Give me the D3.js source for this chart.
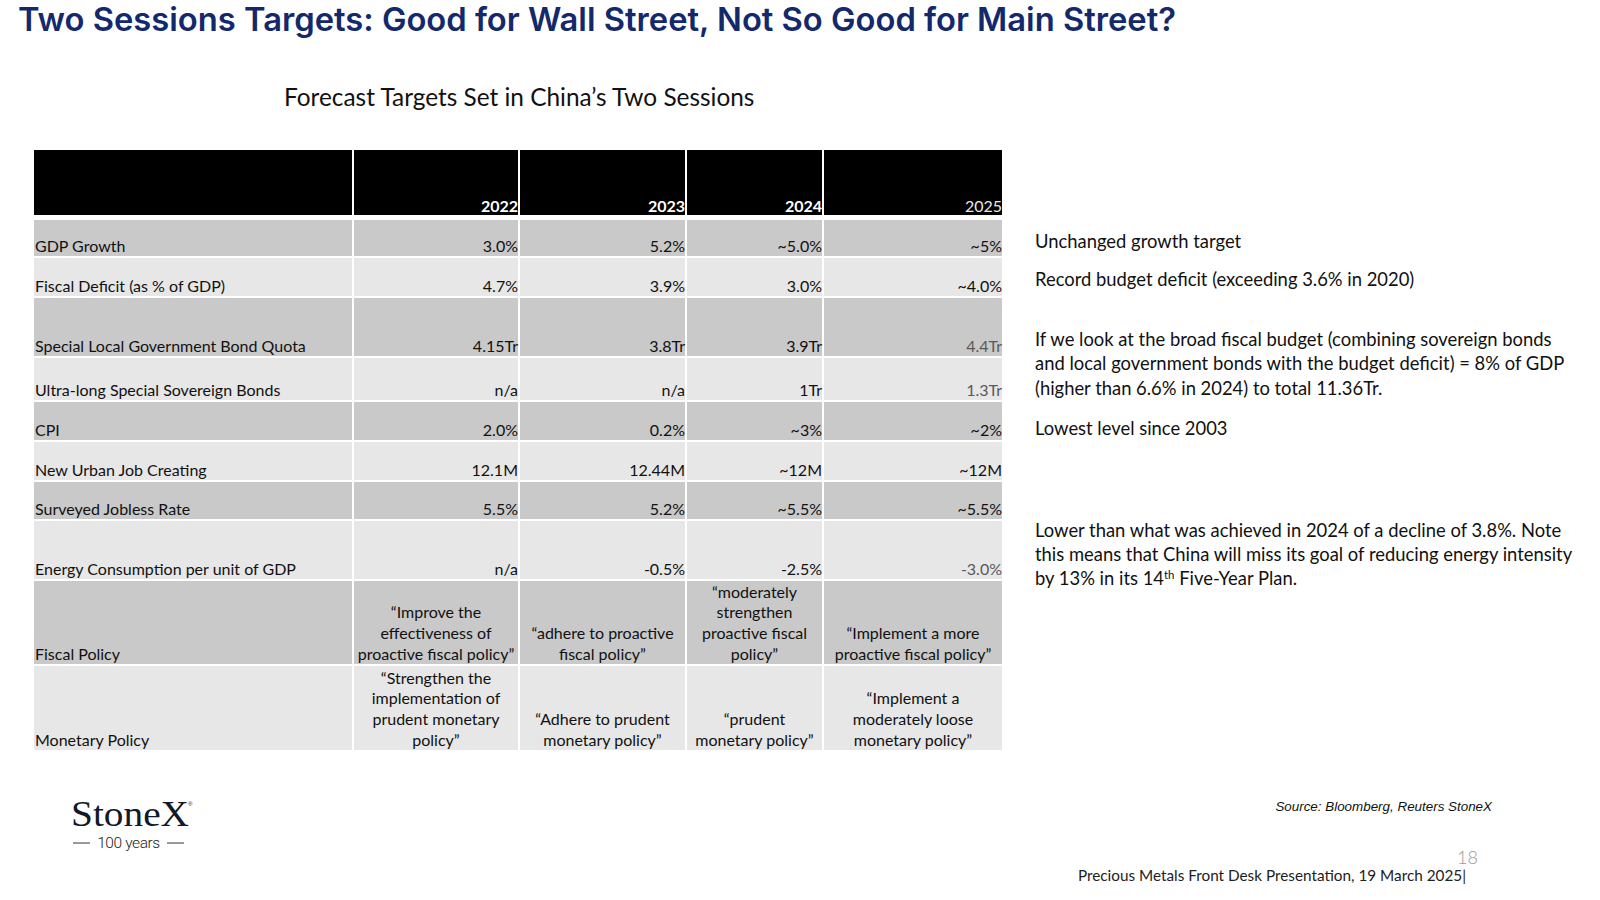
<!DOCTYPE html>
<html>
<head>
<meta charset="utf-8">
<script src="https://cdn.jsdelivr.net/npm/d3@7"></script>
<style>
  body { margin: 0; background: #fff; }
  text { font-family: Lato, "Open Sans", sans-serif; }
</style>
</head>
<body>
<svg id="slide"></svg>
<script>
// data
const rowLabels = [
  "GDP Growth",
  "Fiscal Deficit (as % of GDP)",
  "Special Local Government Bond Quota",
  "Ultra-long Special Sovereign Bonds",
  "CPI",
  "New Urban Job Creating",
  "Surveyed Jobless Rate",
  "Energy Consumption per unit of GDP",
  "Fiscal Policy",
  "Monetary Policy"
];
const years = ["2022", "2023", "2024", "2025"];

const values2022 = ["3.0%", "4.7%", "4.15Tr", "n/a", "2.0%", "12.1M", "5.5%", "n/a",
  "“Improve the\neffectiveness of\nproactive fiscal policy”",
  "“Strengthen the\nimplementation of\nprudent monetary\npolicy”"];
const values2023 = ["5.2%", "3.9%", "3.8Tr", "n/a", "0.2%", "12.44M", "5.2%", "-0.5%",
  "“adhere to proactive\nfiscal policy”",
  "“Adhere to prudent\nmonetary policy”"];
const values2024 = ["~5.0%", "3.0%", "3.9Tr", "1Tr", "~3%", "~12M", "~5.5%", "-2.5%",
  "“moderately\nstrengthen\nproactive fiscal\npolicy”",
  "“prudent\nmonetary policy”"];
const values2025 = ["~5%", "~4.0%", "4.4Tr", "1.3Tr", "~2%", "~12M", "~5.5%", "-3.0%",
  "“Implement a more\nproactive fiscal policy”",
  "“Implement a\nmoderately loose\nmonetary policy”"];
const series = [values2022, values2023, values2024, values2025];

const notes = [
  ["Unchanged growth target"],
  ["Record budget deficit (exceeding 3.6% in 2020)"],
  ["If we look at the broad fiscal budget (combining sovereign bonds",
   "and local government bonds with the budget deficit) = 8% of GDP",
   "(higher than 6.6% in 2024) to total 11.36Tr."],
  ["Lowest level since 2003"],
  ["Lower than what was achieved in 2024 of a decline of 3.8%. Note",
   "this means that China will miss its goal of reducing energy intensity",
   "by 13% in its 14|th| Five-Year Plan."]
];

// layout
const width = 1600, height = 900;
const colWidths = [319, 166, 167, 137, 180];
const headerH = 69;
const rowHeights = [38, 40, 60, 44, 40, 40, 39, 60, 85, 86];
const tableLeft = 34, tableTop = 150;
const lineH = 20.8;
const noteX = 1035;
const noteBaselines = [[248], [286], [346, 370, 395], [435], [537, 561, 585]];
const muted2025 = [2, 3, 7];

const svg = d3.select('#slide')
    .attr('width', width)
    .attr('height', height);

// title
svg.append('text')
    .attr('x', 18)
    .attr('y', 31)
    .attr('textLength', 1158)
    .attr('lengthAdjust', 'spacingAndGlyphs')
    .style('font-family', 'Inter, sans-serif')
    .style('font-weight', 600)
    .style('font-size', '32px')
    .style('fill', '#13296b')
    .text('Two Sessions Targets: Good for Wall Street, Not So Good for Main Street?');

svg.append('text')
    .attr('x', 284)
    .attr('y', 106)
    .style('font-size', '24.4px')
    .style('fill', '#111')
    .text('Forecast Targets Set in China’s Two Sessions');

// scales: columns and rows from cumulative sizes
const colEdges = [0].concat(Array.from(d3.cumsum(colWidths)));
const x = d3.scaleLinear().domain([0, colEdges[colEdges.length - 1]])
    .range([tableLeft, tableLeft + colEdges[colEdges.length - 1]]);
const rowEdges = [0, headerH].concat(Array.from(d3.cumsum(rowHeights)).map(d => d + headerH));
const y = d3.scaleLinear().domain([0, rowEdges[rowEdges.length - 1]])
    .range([tableTop, tableTop + rowEdges[rowEdges.length - 1]]);

const table = svg.append('g');

// header
const headerCols = [""].concat(years);
table.selectAll('rect.head')
    .data(headerCols)
    .enter()
    .append('rect')
    .attr('class', 'head')
    .attr('x', (d, i) => x(colEdges[i]) + (i ? 1 : 0))
    .attr('y', y(0))
    .attr('width', (d, i) => colWidths[i] - (i ? 2 : 1))
    .attr('height', headerH - 4)
    .attr('fill', '#000');

table.selectAll('text.head')
    .data(years)
    .enter()
    .append('text')
    .attr('class', 'head')
    .attr('x', (d, i) => x(colEdges[i + 2]) - 1)
    .attr('y', y(headerH) - 7)
    .attr('text-anchor', 'end')
    .style('font-size', '16px')
    .style('font-weight', (d, i) => i < 3 ? 700 : 400)
    .style('fill', (d, i) => i < 3 ? '#fff' : '#e8e8e8')
    .text(d => d);

// body rows
const rows = table.selectAll('g.row')
    .data(rowLabels)
    .enter()
    .append('g')
    .attr('class', 'row');

rows.each(function(label, r) {
  const g = d3.select(this);
  const top = y(rowEdges[r + 1]);
  const bottom = y(rowEdges[r + 2]);
  const fill = r % 2 === 0 ? '#c9c9c9' : '#e7e7e7';

  g.selectAll('rect')
      .data(colWidths)
      .enter()
      .append('rect')
      .attr('x', (d, i) => x(colEdges[i]) + (i ? 1 : 0))
      .attr('y', top + 1)
      .attr('width', (d, i) => d - (i ? 2 : 1))
      .attr('height', bottom - top - 2)
      .attr('fill', fill);

  g.append('text')
      .attr('x', x(0) + 1)
      .attr('y', bottom - 5)
      .style('font-size', '16px')
      .style('fill', '#111')
      .text(label);

  series.forEach(function(vals, c) {
    const lines = vals[r].split('\n');
    const multi = r >= 8;
    const cx = multi ? (x(colEdges[c + 1]) + x(colEdges[c + 2])) / 2 : x(colEdges[c + 2]) - 1;
    const isMuted = c === 3 && muted2025.indexOf(r) >= 0;
    g.selectAll('text.v' + c)
        .data(lines)
        .enter()
        .append('text')
        .attr('class', 'v' + c)
        .attr('x', cx)
        .attr('y', (d, i) => bottom - 5 - (lines.length - 1 - i) * lineH)
        .attr('text-anchor', multi ? 'middle' : 'end')
        .style('font-size', '16px')
        .style('fill', isMuted ? '#595959' : '#111')
        .text(d => d);
  });
});

// side notes
notes.forEach(function(lines, n) {
  lines.forEach(function(line, i) {
    const t = svg.append('text')
        .attr('x', noteX)
        .attr('y', noteBaselines[n][i])
        .style('font-size', '18.4px')
        .style('fill', '#111');
    line.split('|').forEach(function(part, k) {
      const ts = t.append('tspan').text(part);
      if (k === 1) ts.attr('dy', -6).style('font-size', '11.5px');
      if (k === 2) ts.attr('dy', 6);
    });
  });
});

// footer
svg.append('text')
    .attr('x', 1492)
    .attr('y', 811)
    .attr('text-anchor', 'end')
    .style('font-family', '"Liberation Sans", Arial, sans-serif')
    .style('font-style', 'italic')
    .style('font-size', '13.4px')
    .style('fill', '#111')
    .text('Source: Bloomberg, Reuters StoneX');

svg.append('text')
    .attr('x', 1478)
    .attr('y', 864)
    .attr('text-anchor', 'end')
    .style('font-size', '18px')
    .style('font-weight', 300)
    .style('fill', '#999')
    .text('18');

svg.append('text')
    .attr('x', 1466)
    .attr('y', 881)
    .attr('text-anchor', 'end')
    .style('font-size', '15.3px')
    .style('fill', '#222')
    .text('Precious Metals Front Desk Presentation, 19 March 2025|');

// logo
const logo = svg.append('g');
logo.append('text')
    .attr('x', 71)
    .attr('y', 826)
    .attr('textLength', 118)
    .attr('lengthAdjust', 'spacingAndGlyphs')
    .style('font-family', '"Liberation Serif", "DejaVu Serif", serif')
    .style('font-size', '36px')
    .style('fill', '#111827')
    .text('StoneX');
logo.append('text')
    .attr('x', 188)
    .attr('y', 806)
    .style('font-family', '"Liberation Sans", sans-serif')
    .style('font-size', '6px')
    .style('fill', '#111827')
    .text('®');
logo.append('line')
    .attr('x1', 73).attr('x2', 90)
    .attr('y1', 843).attr('y2', 843)
    .attr('stroke', '#333').attr('stroke-width', 1);
logo.append('line')
    .attr('x1', 167).attr('x2', 184)
    .attr('y1', 843).attr('y2', 843)
    .attr('stroke', '#333').attr('stroke-width', 1);
logo.append('text')
    .attr('x', 128.5)
    .attr('y', 848)
    .attr('text-anchor', 'middle')
    .style('font-family', 'Roboto, sans-serif')
    .style('font-weight', 300)
    .style('font-size', '15.5px')
    .style('letter-spacing', '-0.4px')
    .style('fill', '#222')
    .text('100 years');
</script>
</body>
</html>
